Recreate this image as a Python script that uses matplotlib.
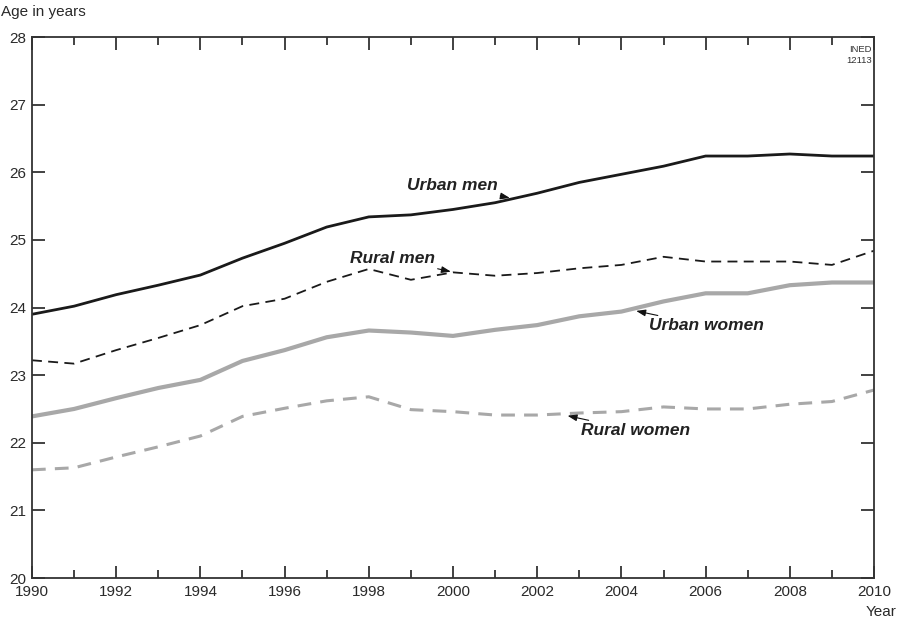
import numpy as np
import matplotlib.pyplot as plt
from matplotlib.ticker import MultipleLocator

plt.rcParams['font.family'] = ['Liberation Sans', 'DejaVu Sans']

years = list(range(1990, 2011))
urban_men = [23.90, 24.02, 24.19, 24.33, 24.48, 24.73, 24.95, 25.19, 25.34, 25.37, 25.45,
             25.55, 25.69, 25.85, 25.97, 26.09, 26.24, 26.24, 26.27, 26.24, 26.24]
rural_men = [23.22, 23.17, 23.37, 23.55, 23.74, 24.02, 24.13, 24.38, 24.57, 24.41, 24.52,
             24.47, 24.51, 24.58, 24.63, 24.75, 24.68, 24.68, 24.68, 24.63, 24.84]
urban_women = [22.39, 22.50, 22.66, 22.81, 22.93, 23.21, 23.37, 23.56, 23.66, 23.63, 23.58,
               23.67, 23.74, 23.87, 23.94, 24.09, 24.21, 24.21, 24.33, 24.37, 24.37]
rural_women = [21.60, 21.63, 21.79, 21.94, 22.10, 22.39, 22.51, 22.62, 22.68, 22.49, 22.46,
               22.41, 22.41, 22.44, 22.46, 22.53, 22.50, 22.50, 22.57, 22.61, 22.78]

AXCOL = '#333333'
TXT = '#2a2a2a'

fig = plt.figure(figsize=(8.98, 6.22), dpi=100)
ax = fig.add_axes([0.0356, 0.0707, 0.9377, 0.8698])

ax.plot(years, urban_men, color='#1a1a1a', lw=2.0, solid_capstyle='butt')
ax.plot(years, rural_men, color='#1a1a1a', lw=1.3, dashes=(5.5, 3.5))
ax.plot(years, urban_women, color='#a8a8a8', lw=3.0)
ax.plot(years, rural_women, color='#a8a8a8', lw=2.2, dashes=(4.5, 3))

ax.set_xlim(1990, 2010)
ax.set_ylim(20, 28)
ax.xaxis.set_major_locator(MultipleLocator(2))
ax.xaxis.set_minor_locator(MultipleLocator(1))
ax.yaxis.set_major_locator(MultipleLocator(1))

for s in ax.spines.values():
    s.set_color(AXCOL)
    s.set_linewidth(1.3)

ax.tick_params(which='both', direction='in', top=True, right=True, color=AXCOL,
               width=1.3, labelsize=11, labelcolor=TXT)
ax.tick_params(which='major', length=9)
ax.tick_params(which='minor', length=6)
ax.tick_params(axis='y', which='major', length=9.5)
ax.tick_params(axis='x', pad=5)
ax.tick_params(axis='y', pad=4)

# series labels with short leader arrows
lab = dict(fontsize=12.5, fontweight='bold', fontstyle='italic', color='#222222')
arr = dict(arrowstyle='-|>,head_length=0.45,head_width=0.16', color='#111111', lw=0.8,
           shrinkA=0, shrinkB=0)
ax.annotate('Urban men', xy=(2001.35, 25.62), xytext=(1998.9, 25.80),
            ha='left', va='center', arrowprops=arr, **lab)
ax.annotate('Rural men', xy=(1999.95, 24.53), xytext=(1997.55, 24.72),
            ha='left', va='center', arrowprops=arr, **lab)
ax.annotate('Urban women', xy=(2004.35, 23.95), xytext=(2004.65, 23.73),
            ha='left', va='center', arrowprops=arr, **lab)
ax.annotate('Rural women', xy=(2002.72, 22.40), xytext=(2003.05, 22.18),
            ha='left', va='center', arrowprops=arr, **lab)

fig.text(0.001, 0.981, 'Age in years', fontsize=11, color=TXT, ha='left', va='center')
fig.text(0.998, 0.016, 'Year', fontsize=11, color=TXT, ha='right', va='center')
ax.text(0.997, 0.985, 'INED\n12113', transform=ax.transAxes, fontsize=6.8,
        color='#333333', ha='right', va='top', linespacing=1.3)

fig.savefig('out.png', dpi=100)
